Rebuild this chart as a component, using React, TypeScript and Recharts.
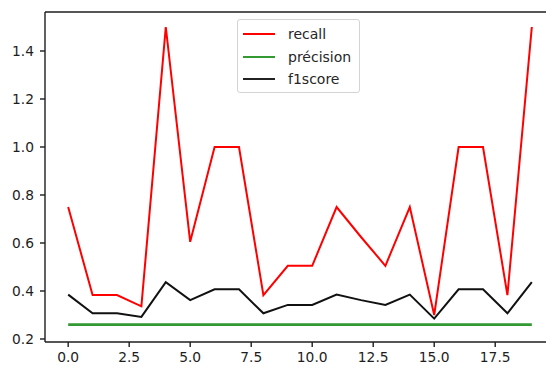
import React from "react";
import { LineChart, Line, XAxis, YAxis, Legend, ReferenceLine } from "recharts";

// Per-run scores
const runs = [0, 1, 2, 3, 4, 5, 6, 7, 8, 9, 10, 11, 12, 13, 14, 15, 16, 17, 18, 19];
const recall = [0.75, 0.383, 0.383, 0.336, 1.5, 0.605, 1.0, 1.0, 0.383, 0.505, 0.505, 0.75, 0.625, 0.505, 0.75, 0.3, 1.0, 1.0, 0.383, 1.5];
const precision = [0.26, 0.26, 0.26, 0.26, 0.26, 0.26, 0.26, 0.26, 0.26, 0.26, 0.26, 0.26, 0.26, 0.26, 0.26, 0.26, 0.26, 0.26, 0.26, 0.26];
const f1score = [0.385, 0.307, 0.307, 0.292, 0.437, 0.362, 0.407, 0.407, 0.307, 0.342, 0.342, 0.385, 0.362, 0.342, 0.385, 0.285, 0.407, 0.407, 0.307, 0.437];

const xTicks = [0, 2.5, 5, 7.5, 10, 12.5, 15, 17.5];
const yTicks = [0.2, 0.4, 0.6, 0.8, 1.0, 1.2, 1.4];

const data = runs.map((r, i) => ({
  run: r,
  recall: recall[i],
  precision: precision[i],
  f1score: f1score[i],
}));

const FONT = "'DejaVu Sans', sans-serif";
const INK = "#1e1e1e";
const Y_DOMAIN: [number, number] = [0.1875, 1.5625];

const legendItems = [
  { label: "recall", color: "#ff0000" },
  { label: "précision", color: "#339933" },
  { label: "f1score", color: "#222222" },
];

function LegendBox() {
  return (
    <div
      style={{
        boxSizing: "border-box",
        width: 123,
        height: 74,
        border: "1px solid #d4d4d4",
        borderRadius: 3,
        background: "rgba(255,255,255,0.85)",
        paddingTop: 3,
        fontFamily: FONT,
        fontSize: 14,
        color: "#262626",
      }}
    >
      {legendItems.map((it) => (
        <div key={it.label} style={{ display: "flex", alignItems: "center", height: 22.5 }}>
          <div style={{ width: 32, height: 2, background: it.color, marginLeft: 5, marginRight: 13 }} />
          <span style={{ lineHeight: "16px" }}>{it.label}</span>
        </div>
      ))}
    </div>
  );
}

export default function App() {
  return (
    <div style={{ position: "absolute", left: 0, top: 0, width: 546, height: 371, overflow: "hidden", background: "#fff" }}>
      <LineChart width={570} height={371} data={data} margin={{ top: 12, right: 15, bottom: 0, left: 0 }}>
        <XAxis
          dataKey="run"
          type="number"
          domain={[-0.95, 19.95]}
          ticks={xTicks}
          tickFormatter={(v: number) => v.toFixed(1)}
          height={29}
          tickSize={5}
          tickMargin={5}
          stroke={INK}
          strokeWidth={1.4}
          tick={{ fill: INK, fontFamily: FONT, fontSize: 13.8 }}
          allowDataOverflow
        />
        <YAxis
          type="number"
          domain={Y_DOMAIN}
          ticks={yTicks}
          tickFormatter={(v: number) => v.toFixed(1)}
          width={45}
          tickSize={5}
          tickMargin={6}
          stroke={INK}
          strokeWidth={1.4}
          tick={{ fill: INK, fontFamily: FONT, fontSize: 13.8 }}
          allowDataOverflow
        />
        <ReferenceLine y={Y_DOMAIN[1]} stroke={INK} strokeWidth={1.4} />
        <Line dataKey="recall" stroke="#ff0000" strokeWidth={2} dot={false} isAnimationActive={false} />
        <Line dataKey="precision" stroke="#339933" strokeWidth={2.6} dot={false} isAnimationActive={false} />
        <Line dataKey="f1score" stroke="#111111" strokeWidth={2} dot={false} isAnimationActive={false} />
        <Legend
          layout="vertical"
          align="center"
          verticalAlign="middle"
          content={() => <LegendBox />}
          wrapperStyle={{ left: 237, top: 19, width: 123, height: 74 }}
        />
      </LineChart>
    </div>
  );
}
